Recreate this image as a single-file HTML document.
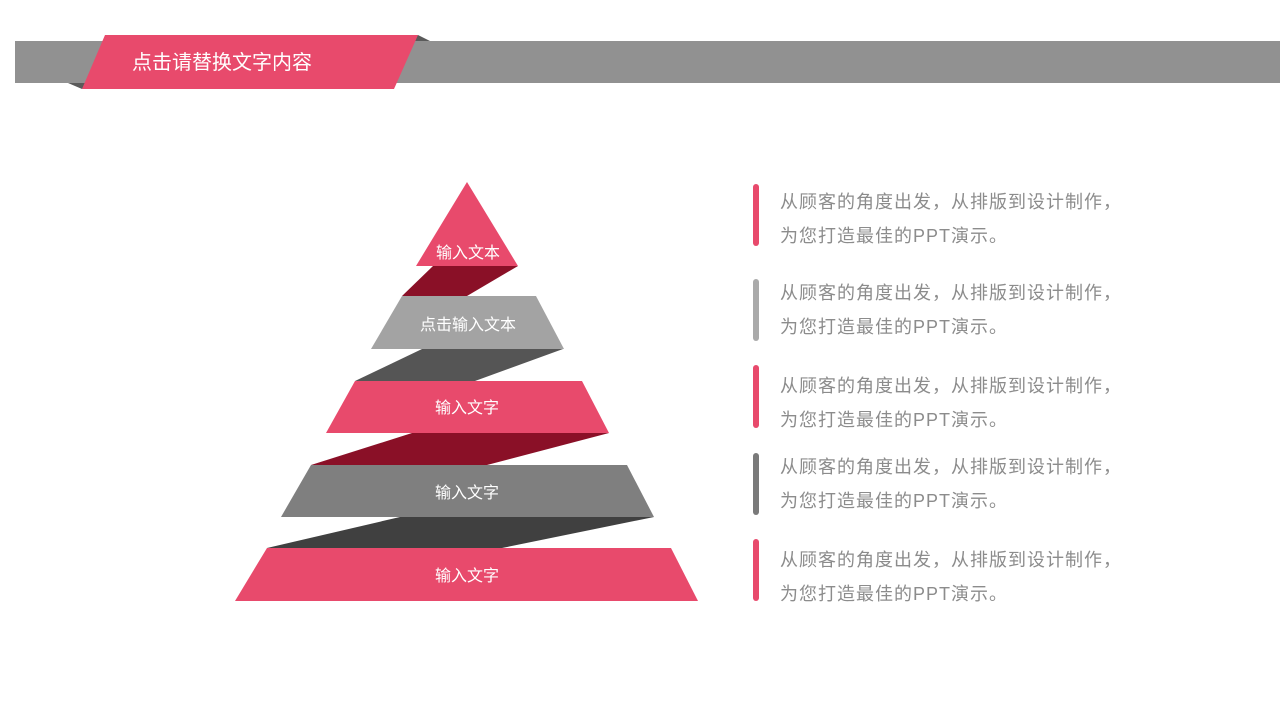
<!DOCTYPE html>
<html><head><meta charset="utf-8"><style>
html,body{margin:0;padding:0;background:#fff;}
svg{display:block;font-family:"Liberation Sans","Noto Sans CJK SC","Microsoft YaHei",sans-serif;}
</style></head><body>
<svg width="1280" height="720" viewBox="0 0 1280 720" xmlns="http://www.w3.org/2000/svg">
<rect x="15" y="41" width="1265" height="42" fill="#919191"/>
<polygon points="418,35 430,41 412,41" fill="#5a5a5a"/>
<polygon points="68,83 86,83 82,89" fill="#5a5a5a"/>
<polygon points="105,35 418,35 394,89 82,89" fill="#e84a6c"/>
<text x="132" y="69" font-size="20" fill="#fff">点击请替换文字内容</text>

<polygon points="433,266 518,266 467,296 402,296" fill="#8a1027"/>
<polygon points="422,349 563,349 475,381 355,381" fill="#555555"/>
<polygon points="412,433 609,433 487,465 311,465" fill="#8a1027"/>
<polygon points="400,517 654,517 502,548 267,548" fill="#404040"/>
<polygon points="467,182 518,266 416,266" fill="#e84a6c"/>
<polygon points="402,296 536,296 564,349 371,349" fill="#a3a3a3"/>
<polygon points="355,381 582,381 609,433 326,433" fill="#e84a6c"/>
<polygon points="311,465 627,465 654,517 281,517" fill="#7f7f7f"/>
<polygon points="267,548 671,548 698,601 235,601" fill="#e84a6c"/>

<g font-size="16" fill="#fff" text-anchor="middle">
<text x="468" y="258">输入文本</text>
<text x="468" y="330">点击输入文本</text>
<text x="467" y="413">输入文字</text>
<text x="467" y="498">输入文字</text>
<text x="467" y="581">输入文字</text>
</g>

<rect x="753" y="184" width="6" height="62" rx="3" fill="#e84a6c"/>
<rect x="753" y="279" width="6" height="62" rx="3" fill="#aaaaaa"/>
<rect x="753" y="365" width="6" height="63" rx="3" fill="#e84a6c"/>
<rect x="753" y="453" width="6" height="62" rx="3" fill="#7a7a7a"/>
<rect x="753" y="539" width="6" height="62" rx="3" fill="#e84a6c"/>

<g font-size="18" fill="#8c8c8c" letter-spacing="1">
<text x="780" y="208">从顾客的角度出发，从排版到设计制作，</text>
<text x="780" y="242">为您打造最佳的PPT演示。</text>
<text x="780" y="299">从顾客的角度出发，从排版到设计制作，</text>
<text x="780" y="333">为您打造最佳的PPT演示。</text>
<text x="780" y="392">从顾客的角度出发，从排版到设计制作，</text>
<text x="780" y="426">为您打造最佳的PPT演示。</text>
<text x="780" y="473">从顾客的角度出发，从排版到设计制作，</text>
<text x="780" y="507">为您打造最佳的PPT演示。</text>
<text x="780" y="566">从顾客的角度出发，从排版到设计制作，</text>
<text x="780" y="600">为您打造最佳的PPT演示。</text>
</g>
</svg>
</body></html>
